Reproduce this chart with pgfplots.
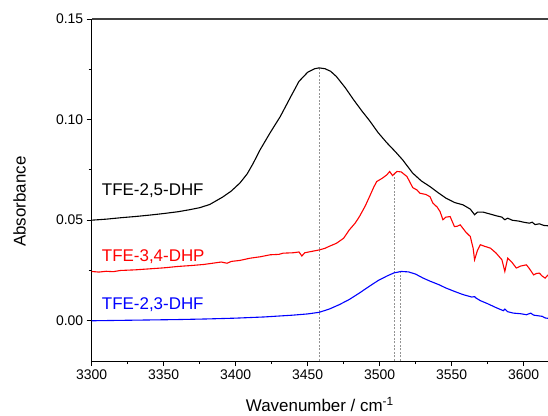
\documentclass[border=0pt]{standalone}
\usepackage{fontspec}
\setmainfont{Liberation Sans}
\usepackage{pgfplots}
\pgfplotsset{compat=1.18}

\begin{document}
\begin{tikzpicture}
\begin{axis}[
  name=ax,
  scale only axis, width=456.3bp, height=342bp,
  xmin=3300, xmax=3617, ymin=-0.02, ymax=0.15,
  axis y line*=left, axis x line*=bottom,
  axis line style={-, line width=1bp, black},
  xtick={3300,3350,...,3600}, minor x tick num=1,
  ytick={0,0.05,0.10,0.15}, minor y tick num=1,
  tick align=outside, major tick length=5bp, minor tick length=3bp,
  tick style={line width=0.8bp, black},
  ticklabel style={font=\fontsize{14}{16}\selectfont},
  /pgf/number format/assume math mode=true,
  xticklabel style={/pgf/number format/1000 sep={}},
  yticklabel style={/pgf/number format/fixed, /pgf/number format/fixed zerofill, /pgf/number format/precision=2},
  xlabel={Wavenumber / cm\textsuperscript{-1}},
  ylabel={Absorbance},
  label style={font=\fontsize{17}{19}\selectfont},
  xlabel style={at={(axis description cs:0.5,-0.127)}, anchor=center},
  ylabel style={at={(axis description cs:-0.158,0.466)}, anchor=center},
  clip=false,
]
% peak markers
\addplot[gray!85, dash pattern=on 2bp off 1.5bp, line width=0.8bp] coordinates {(3458,-0.02)(3458,0.1257)};
\addplot[gray!85, dash pattern=on 2bp off 1.5bp, line width=0.8bp] coordinates {(3510.6,-0.02)(3510.6,0.0735)};
\addplot[gray!85, dash pattern=on 2bp off 1.5bp, line width=0.8bp] coordinates {(3514.8,-0.02)(3514.8,0.0245)};

% TFE-2,5-DHF
\addplot[black, line width=1.1bp] coordinates {
(3300,0.0500)(3310,0.0505)(3320,0.0512)(3330,0.0518)(3340,0.0525)(3350,0.0533)(3360,0.0542)(3368,0.0552)
(3375,0.0562)(3382,0.0578)(3391,0.0615)(3397,0.0645)(3403,0.0685)(3408,0.0730)(3412,0.0780)(3417,0.0850)
(3424,0.0935)(3431,0.1015)(3438,0.1110)(3444,0.1190)(3450,0.1235)(3455,0.1253)(3458,0.1257)(3462,0.1253)
(3466,0.1240)(3470,0.1214)(3476,0.1160)(3482,0.1098)(3488,0.1040)(3493,0.0995)(3499,0.0935)(3505,0.0885)
(3511,0.0840)(3516,0.0800)(3523,0.0734)(3529,0.0695)(3535,0.0667)(3541,0.0635)(3546,0.0610)(3552,0.0588)
(3558,0.0576)(3563,0.0555)(3566,0.0527)(3568,0.0540)(3572,0.0540)(3576,0.0532)(3581,0.0522)(3585,0.0515)
(3587,0.0502)(3589,0.0510)(3592,0.0500)(3597,0.0495)(3600,0.0490)(3604,0.0485)(3606,0.0490)(3608,0.0478)
(3611,0.0482)(3614,0.0474)(3617,0.0472)};

% TFE-3,4-DHP
\addplot[red, line width=1.1bp] coordinates {
(3300,0.0245)(3305,0.0242)(3310,0.0246)(3315,0.0244)(3320,0.0250)(3330,0.0253)(3340,0.0258)(3350,0.0263)
(3360,0.0270)(3370,0.0275)(3378,0.0280)(3385,0.0287)(3390,0.0292)(3394,0.0286)(3397,0.0295)(3403,0.0300)
(3410,0.0311)(3417,0.0318)(3424,0.0328)(3430,0.0330)(3433,0.0336)(3440,0.0338)(3444,0.0342)(3446,0.0322)
(3448,0.0338)(3453,0.0345)(3458,0.0352)(3462,0.0360)(3465,0.0370)(3470,0.0385)(3475,0.0410)(3479,0.0452)
(3483,0.0485)(3486,0.0518)(3490,0.0570)(3493,0.0617)(3496,0.0665)(3498,0.0692)(3502,0.0709)(3505,0.0725)
(3507,0.0742)(3509,0.0722)(3512,0.0742)(3515,0.0740)(3519,0.0717)(3521,0.0690)(3523,0.0662)(3526,0.0650)
(3528,0.0634)(3532,0.0628)(3535,0.0617)(3537,0.0585)(3540,0.0565)(3542,0.0543)(3544,0.0502)(3546,0.0515)
(3549,0.0518)(3552,0.0468)(3554,0.0470)(3556,0.0477)(3560,0.0440)(3563,0.0419)(3565,0.0360)(3566,0.0303)
(3568,0.0350)(3570,0.0378)(3573,0.0370)(3577,0.0361)(3581,0.0336)(3585,0.0303)(3587,0.0245)(3589,0.0311)
(3592,0.0290)(3595,0.0262)(3598,0.0272)(3602,0.0278)(3604,0.0260)(3607,0.0228)(3609,0.0235)(3611,0.0237)
(3613,0.0222)(3615,0.0212)(3617,0.0228)};

% TFE-2,3-DHF
\addplot[blue, line width=1.1bp] coordinates {
(3300,0.0000)(3320,0.0002)(3340,0.0004)(3360,0.0006)(3380,0.0009)(3400,0.0013)(3420,0.0019)(3440,0.0028)
(3450,0.0034)(3458,0.0042)(3465,0.0058)(3472,0.0080)(3479,0.0106)(3486,0.0138)(3493,0.0172)(3499,0.0200)
(3505,0.0222)(3510,0.0238)(3515,0.0245)(3520,0.0243)(3525,0.0232)(3530,0.0213)(3535,0.0197)(3541,0.0180)
(3546,0.0163)(3552,0.0146)(3558,0.0130)(3564,0.0118)(3566,0.0120)(3567,0.0113)(3570,0.0100)(3575,0.0085)
(3581,0.0065)(3586,0.0050)(3587,0.0058)(3589,0.0045)(3593,0.0038)(3598,0.0035)(3602,0.0030)(3605,0.0038)
(3607,0.0028)(3610,0.0025)(3613,0.0022)(3615,0.0014)(3617,0.0012)};

\draw[line width=1.2bp, black!75] (rel axis cs:0,1) -- (rel axis cs:1,1);

\node[anchor=west, inner sep=0pt, font=\fontsize{17}{19}\selectfont] at (axis cs:3307,0.0648) {TFE-2,5-DHF};
\node[anchor=west, inner sep=0pt, text=red, font=\fontsize{17}{19}\selectfont] at (axis cs:3307,0.0320) {TFE-3,4-DHP};
\node[anchor=west, inner sep=0pt, text=blue, font=\fontsize{17}{19}\selectfont] at (axis cs:3307,0.0079) {TFE-2,3-DHF};
\end{axis}
\pgfresetboundingbox
\path[use as bounding box] ([xshift=-91.7bp,yshift=-55bp]ax.south west) rectangle ([yshift=19bp]ax.north east);
\end{tikzpicture}
\end{document}
